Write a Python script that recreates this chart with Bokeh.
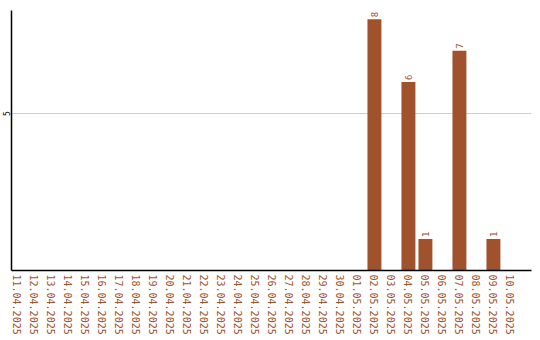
from math import pi

from bokeh.core.properties import value
from bokeh.embed import file_html
from bokeh.models import ColumnDataSource, FixedTicker, Range1d
from bokeh.plotting import figure
from bokeh.resources import INLINE

# Daily counts, 11.04.2025 - 10.05.2025
dates = [
    "11.04.2025", "12.04.2025", "13.04.2025", "14.04.2025", "15.04.2025",
    "16.04.2025", "17.04.2025", "18.04.2025", "19.04.2025", "20.04.2025",
    "21.04.2025", "22.04.2025", "23.04.2025", "24.04.2025", "25.04.2025",
    "26.04.2025", "27.04.2025", "28.04.2025", "29.04.2025", "30.04.2025",
    "01.05.2025", "02.05.2025", "03.05.2025", "04.05.2025", "05.05.2025",
    "06.05.2025", "07.05.2025", "08.05.2025", "09.05.2025", "10.05.2025",
]
counts = [0, 0, 0, 0, 0, 0, 0, 0, 0, 0,
          0, 0, 0, 0, 0, 0, 0, 0, 0, 0,
          0, 8, 0, 6, 1, 0, 7, 0, 1, 0]
y_ticks = [5]

BROWN = "#A0522D"
MONO = "DejaVu Sans Mono"

xs = list(range(len(dates)))
bars = ColumnDataSource(dict(
    x=[x for x, c in zip(xs, counts) if c > 0],
    top=[c for c in counts if c > 0],
    label=[str(c) for c in counts if c > 0],
))

p = figure(
    width=540, height=340,
    x_range=Range1d(-0.35, 30.24), y_range=Range1d(0, 8.28),
    output_backend="svg", toolbar_location=None,
    min_border_left=11, min_border_right=9, min_border_top=10, min_border_bottom=70,
)
p.outline_line_color = None
p.background_fill_color = "white"

p.vbar(x="x", top="top", width=0.82, bottom=0, source=bars,
       fill_color=BROWN, line_color=None)
p.text(x="x", y="top", text="label", source=bars, angle=pi / 2,
       text_align="left", text_baseline="middle", y_offset=-2,
       text_font=value(MONO), text_font_size="9px", text_color=BROWN)

# x axis: one rotated date per day
xa = p.xaxis[0]
xa.ticker = FixedTicker(ticks=xs)
xa.major_label_overrides = {i: d for i, d in enumerate(dates)}
xa.major_label_orientation = "vertical"
xa.major_label_text_font = MONO
xa.major_label_text_font_size = "10px"
xa.major_label_text_color = BROWN
xa.major_label_standoff = 4
xa.major_tick_out = 0
xa.major_tick_in = 0
xa.minor_tick_out = 0
xa.minor_tick_in = 0
xa.axis_line_color = "black"
xa.axis_line_width = 1.5

ya = p.yaxis[0]
ya.ticker = FixedTicker(ticks=y_ticks)
ya.major_label_orientation = "vertical"
ya.major_label_text_font = MONO
ya.major_label_text_font_size = "8px"
ya.major_label_text_color = "black"
ya.major_label_standoff = 1
ya.major_tick_out = 0
ya.major_tick_in = 0
ya.minor_tick_out = 0
ya.minor_tick_in = 0
ya.axis_line_color = "black"
ya.axis_line_width = 1.5

p.xgrid.grid_line_color = None
p.ygrid.grid_line_color = "#cccccc"
p.ygrid.ticker = FixedTicker(ticks=y_ticks)

open("out.html", "w").write(file_html(p, INLINE))
